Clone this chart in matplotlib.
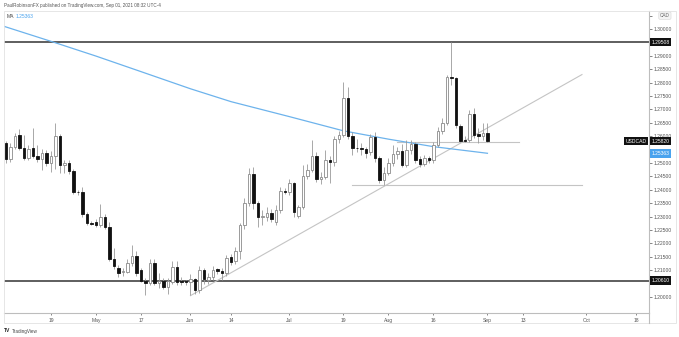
import numpy as np
import pandas as pd
import matplotlib
matplotlib.use('Agg')
import matplotlib.pyplot as plt
from matplotlib.patches import Rectangle
from matplotlib.lines import Line2D

plt.rcParams['font.family'] = ['Liberation Sans', 'DejaVu Sans']

# daily USDCAD bars, Apr 05 - Sep 01 2021 (weekdays)
first_bar = '2021-04-05'
last_bar = '2021-09-01'
opens = [1.2573, 1.2514, 1.2561, 1.2604, 1.2557, 1.2520, 1.2555, 1.2527, 1.2514, 1.2536,
         1.2501, 1.2526, 1.2601, 1.2493, 1.2501, 1.2470, 1.2393, 1.2390, 1.2309, 1.2277,
         1.2281, 1.2269, 1.2300, 1.2263, 1.2141, 1.2107, 1.2095, 1.2095, 1.2126, 1.2153,
         1.2100, 1.2061, 1.2051, 1.2128, 1.2053, 1.2061, 1.2039, 1.2055, 1.2113, 1.2061,
         1.2058, 1.2055, 1.2066, 1.2026, 1.2101, 1.2063, 1.2076, 1.2104, 1.2098, 1.2088,
         1.2148, 1.2134, 1.2173, 1.2269, 1.2350, 1.2458, 1.2352, 1.2300, 1.2300, 1.2315,
         1.2281, 1.2325, 1.2397, 1.2393, 1.2424, 1.2303, 1.2337, 1.2451, 1.2474, 1.2526,
         1.2439, 1.2449, 1.2511, 1.2505, 1.2588, 1.2604, 1.2741, 1.2600, 1.2557, 1.2556,
         1.2553, 1.2540, 1.2598, 1.2518, 1.2437, 1.2464, 1.2501, 1.2532, 1.2546, 1.2493,
         1.2549, 1.2571, 1.2514, 1.2498, 1.2518, 1.2511, 1.2567, 1.2621, 1.2648, 1.2822,
         1.2816, 1.2638, 1.2585, 1.2586, 1.2683, 1.2607, 1.2601, 1.2611]
highs = [1.2583, 1.2575, 1.2612, 1.2626, 1.2604, 1.2567, 1.2629, 1.2567, 1.2552, 1.2550,
         1.2545, 1.2650, 1.2608, 1.2510, 1.2510, 1.2478, 1.2400, 1.2412, 1.2318, 1.2285,
         1.2290, 1.2347, 1.2310, 1.2280, 1.2183, 1.2120, 1.2110, 1.2140, 1.2194, 1.2170,
         1.2110, 1.2070, 1.2141, 1.2141, 1.2090, 1.2072, 1.2070, 1.2135, 1.2135, 1.2075,
         1.2065, 1.2085, 1.2072, 1.2115, 1.2108, 1.2090, 1.2115, 1.2110, 1.2108, 1.2155,
         1.2160, 1.2185, 1.2275, 1.2370, 1.2480, 1.2484, 1.2360, 1.2325, 1.2335, 1.2330,
         1.2345, 1.2410, 1.2405, 1.2440, 1.2430, 1.2345, 1.2493, 1.2495, 1.2586, 1.2540,
         1.2465, 1.2549, 1.2525, 1.2600, 1.2620, 1.2803, 1.2785, 1.2615, 1.2590, 1.2575,
         1.2560, 1.2610, 1.2615, 1.2525, 1.2485, 1.2520, 1.2567, 1.2560, 1.2570, 1.2586,
         1.2585, 1.2578, 1.2525, 1.2530, 1.2525, 1.2580, 1.2635, 1.2668, 1.2828, 1.29508,
         1.2822, 1.2645, 1.2600, 1.2698, 1.2704, 1.2630, 1.2650, 1.2650]
lows = [1.2499, 1.2505, 1.2552, 1.2549, 1.2512, 1.2512, 1.2518, 1.2505, 1.2474, 1.2488,
        1.2468, 1.2478, 1.2461, 1.2461, 1.2460, 1.2385, 1.2380, 1.2300, 1.2267, 1.2268,
        1.2262, 1.2262, 1.2255, 1.2135, 1.2105, 1.2076, 1.2078, 1.2090, 1.2115, 1.2080,
        1.2055, 1.2007, 1.2045, 1.2045, 1.2032, 1.2030, 1.2012, 1.2048, 1.2045, 1.2045,
        1.2045, 1.2007, 1.2010, 1.2016, 1.2050, 1.2050, 1.2065, 1.2085, 1.2062, 1.2080,
        1.2120, 1.2125, 1.2140, 1.2255, 1.2340, 1.2330, 1.2262, 1.2270, 1.2285, 1.2280,
        1.2270, 1.2315, 1.2385, 1.2380, 1.2300, 1.2295, 1.2330, 1.2440, 1.2465, 1.2430,
        1.2420, 1.2440, 1.2424, 1.2490, 1.2575, 1.2598, 1.2590, 1.2530, 1.2540, 1.2530,
        1.2520, 1.2530, 1.2505, 1.2424, 1.2418, 1.2455, 1.2490, 1.2515, 1.2485, 1.2485,
        1.2535, 1.2500, 1.2485, 1.2490, 1.2500, 1.2500, 1.2560, 1.2610, 1.2640, 1.2790,
        1.2630, 1.2578, 1.2577, 1.2580, 1.2595, 1.2575, 1.2585, 1.2578]
closes = [1.2514, 1.2561, 1.2601, 1.2557, 1.2520, 1.2552, 1.2526, 1.2514, 1.2536, 1.2501,
          1.2526, 1.2601, 1.2493, 1.2501, 1.2470, 1.2393, 1.2390, 1.2309, 1.2275, 1.2274,
          1.2269, 1.2300, 1.2263, 1.2141, 1.2116, 1.2091, 1.2097, 1.2126, 1.2153, 1.2088,
          1.2061, 1.2052, 1.2128, 1.2051, 1.2058, 1.2039, 1.2061, 1.2113, 1.2055, 1.2056,
          1.2055, 1.2066, 1.2026, 1.2101, 1.2066, 1.2076, 1.2101, 1.2098, 1.2088, 1.2144,
          1.2132, 1.2172, 1.2269, 1.2350, 1.2458, 1.2352, 1.2300, 1.2302, 1.2315, 1.2291,
          1.2325, 1.2397, 1.2393, 1.2424, 1.2318, 1.2337, 1.2451, 1.2474, 1.2526, 1.2439,
          1.2449, 1.2511, 1.2505, 1.2588, 1.2604, 1.2741, 1.2600, 1.2557, 1.2555, 1.2554,
          1.2539, 1.2598, 1.2518, 1.2437, 1.2464, 1.2501, 1.2532, 1.2546, 1.2493, 1.2549,
          1.2571, 1.2511, 1.2495, 1.2518, 1.2511, 1.2567, 1.2621, 1.2648, 1.2822, 1.2816,
          1.2642, 1.2582, 1.2582, 1.2683, 1.2604, 1.2601, 1.2613, 1.2582]

# 200-day moving average, sampled
ma_dates = ['2021-04-02', '2021-04-19', '2021-05-03', '2021-05-17', '2021-06-01', '2021-06-14',
            '2021-07-01', '2021-07-19', '2021-08-02', '2021-08-16', '2021-09-01']
ma_values = [1.3013, 1.2954, 1.2899, 1.2841, 1.2777, 1.2729, 1.2673, 1.2620, 1.2589, 1.2561, 1.25363]

# drawn levels
resistance_top = 1.29508
support_bottom = 1.20610
last_price = 1.25820
trend_start = ('2021-06-01', 1.2005)
trend_end = ('2021-09-30', 1.2830)
aug_low = ('2021-07-21', '2021-09-30', 1.2418)
pivot = ('2021-08-04', '2021-09-10', 1.2580)

price_ticks = np.arange(1.200, 1.3051, 0.005)
# scale labels that sit under a badge are not printed
hidden_ticks = [1.205, 1.255, 1.295, 1.305]
time_ticks = ['2021-04-19', '2021-05-03', '2021-05-17', '2021-06-01', '2021-06-14', '2021-07-01',
              '2021-07-19', '2021-08-02', '2021-08-16', '2021-09-01', '2021-09-13', '2021-10-01',
              '2021-10-18']
time_labels = ['19', 'May', '17', 'Jun', '14', 'Jul', '19', 'Aug', '16', 'Sep', '13', 'Oct', '18']

# bar index on a weekday calendar, Apr 19 = 0
cal = pd.bdate_range('2021-03-29', '2021-11-30')
origin = cal.get_loc(pd.Timestamp('2021-04-19'))


def pos(d):
    return cal.get_loc(pd.Timestamp(d)) - origin


W, H = 679, 337


def fx(px):
    return px / W


def fy(py):
    return 1 - py / H


fig = plt.figure(figsize=(W / 100, H / 100), dpi=100)
fig.patch.set_facecolor('white')
ax = fig.add_axes([fx(4), fy(313), (649 - 4) / W, (313 - 11) / H])

bars = pd.bdate_range(first_bar, last_bar)
x = np.array([pos(d) for d in bars])
o, h, l, c = map(np.array, (opens, highs, lows, closes))
up = c >= o

# wicks then bodies
ax.vlines(x, l, h, color='#9a9a9a', lw=0.6, zorder=3)
ax.bar(x[up], c[up] - o[up], bottom=o[up], width=0.64, facecolor='white',
       edgecolor='#8a8a8a', linewidth=0.6, zorder=4)
ax.bar(x[~up], o[~up] - c[~up], bottom=c[~up], width=0.64, facecolor='#111111',
       edgecolor='#111111', linewidth=0.6, zorder=4)

# moving average
ax.plot([pos(d) for d in ma_dates], ma_values, color='#6db3ec', lw=0.9, zorder=2)

# horizontal levels
ax.axhline(resistance_top, color='#333333', lw=1.1, zorder=1)
ax.axhline(support_bottom, color='#333333', lw=1.1, zorder=1)
ax.plot([pos(aug_low[0]), pos(aug_low[1])], [aug_low[2]] * 2, color='#c4c4c4', lw=0.8, zorder=1)
ax.plot([pos(pivot[0]), pos(pivot[1])], [pivot[2]] * 2, color='#c4c4c4', lw=0.8, zorder=1)
# rising trendline off the June low
ax.plot([pos(trend_start[0]), pos(trend_end[0])], [trend_start[1], trend_end[1]],
        color='#c4c4c4', lw=0.8, zorder=1)

ax.set_xlim(-10.44, 132.9)
ax.set_ylim(1.19403, 1.30672)

for s in ['top', 'left']:
    ax.spines[s].set_visible(False)
ax.spines['right'].set_color('#bdbdbd')
ax.spines['bottom'].set_color('#bdbdbd')
ax.spines['right'].set_linewidth(0.8)
ax.spines['bottom'].set_linewidth(0.8)

ax.yaxis.tick_right()
ax.set_yticks(price_ticks)
ax.set_yticklabels(['' if any(abs(v - t) < 1e-6 for t in hidden_ticks) else f'{v:.5f}'
                    for v in price_ticks])
ax.tick_params(axis='y', labelsize=3.6, colors='#555555', length=2, width=0.5, pad=1.5)
ax.set_xticks([pos(d) for d in time_ticks])
ax.set_xticklabels(time_labels)
ax.tick_params(axis='x', labelsize=3.6, colors='#555555', length=1.5, width=0.5, pad=2)

# price scale badges
ytr = ax.get_yaxis_transform()
badge = dict(fontsize=3.6, va='center', ha='left', color='white', transform=ytr,
             clip_on=False, zorder=10)
ax.text(1.004, resistance_top, f'{resistance_top:.5f}',
        bbox=dict(boxstyle='square,pad=0.35', fc='#111111', ec='none'), **badge)
ax.text(1.004, support_bottom, f'{support_bottom:.5f}',
        bbox=dict(boxstyle='square,pad=0.35', fc='#111111', ec='none'), **badge)
ax.text(1.004, last_price, f'{last_price:.5f}',
        bbox=dict(boxstyle='square,pad=0.35', fc='#111111', ec='none'), **badge)
ax.text(1.004, ma_values[-1], f'{ma_values[-1]:.5f}',
        bbox=dict(boxstyle='square,pad=0.35', fc='#4aa3ee', ec='none'), **badge)
ax.text(0.996, last_price, 'USDCAD', fontsize=3.6, va='center', ha='right', color='white',
        transform=ytr, clip_on=False, zorder=10,
        bbox=dict(boxstyle='square,pad=0.35', fc='#111111', ec='none'))
ax.text(1.017, 1.305, 'CAD', fontsize=3.4, va='center', ha='left', color='#666666',
        transform=ytr, clip_on=False, zorder=10,
        bbox=dict(boxstyle='round,pad=0.25', fc='#f4f4f4', ec='#d6d6d6', lw=0.4))

# legend for the MA
fig.text(fx(7), fy(16), 'MA', fontsize=3.6, color='#444444', va='center')
fig.text(fx(16), fy(16), f'{ma_values[-1]:.5f}', fontsize=3.6, color='#4aa3ee', va='center')

# chart frame and header/footer
fig.add_artist(Rectangle((fx(4), fy(323)), (676 - 4) / W, (323 - 11) / H, fill=False,
                         edgecolor='#e2e2e2', lw=0.6, transform=fig.transFigure))
fig.add_artist(Line2D([fx(649), fx(649)], [fy(313), fy(323)], color='#bdbdbd', lw=0.8,
                      transform=fig.transFigure))
fig.text(fx(4), fy(5.5), 'PaulRobinsonFX published on TradingView.com, Sep 01, 2021 08:32 UTC-4',
         fontsize=3.3, color='#555555', va='center')
fig.text(fx(4), fy(331), 'TV', fontsize=3.6, color='#222222', va='center', weight='bold')
fig.text(fx(12), fy(331), 'TradingView', fontsize=3.3, color='#444444', va='center')

fig.savefig('out.png', dpi=100)
